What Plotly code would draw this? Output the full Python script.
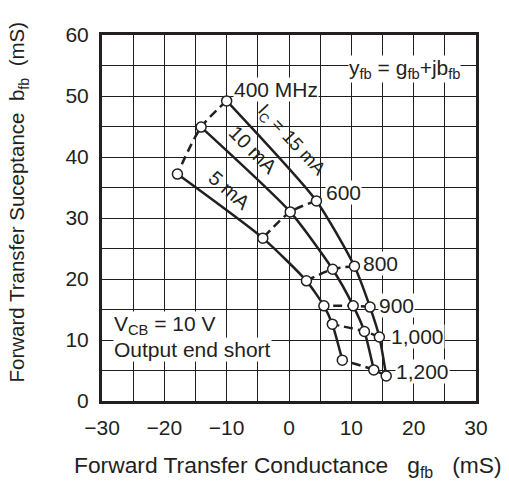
import plotly.graph_objects as go

freqs = ["400", "600", "800", "900", "1000", "1200"]
freq_labels = ["400 MHz", "600", "800", "900", "1,000", "1,200"]

g_15mA = [-10.0, 4.4, 10.5, 13.0, 14.5, 15.6]
b_15mA = [49.2, 32.8, 22.1, 15.4, 10.5, 4.1]
g_10mA = [-14.1, 0.2, 7.0, 10.3, 12.1, 13.6]
b_10mA = [44.9, 31.0, 21.6, 15.6, 11.4, 5.1]
g_5mA = [-17.9, -4.2, 2.8, 5.6, 6.95, 8.55]
b_5mA = [37.2, 26.7, 19.7, 15.6, 12.6, 6.7]

x_ticks = [-30, -20, -10, 0, 10, 20, 30]
x_tick_text = ["\u221230", "\u221220", "\u221210", "0", "10", "20", "30"]
y_ticks = [0, 10, 20, 30, 40, 50, 60]

INK = "#231f20"
GRID = "#1e1e1e"
FONT = "Liberation Sans, Arial, sans-serif"

fig = go.Figure()

curves = [(g_15mA, b_15mA), (g_10mA, b_10mA), (g_5mA, b_5mA)]
# dashed constant-frequency lines
for i in range(len(freqs)):
    xs = [c[0][i] for c in curves]
    ys = [c[1][i] for c in curves]
    fig.add_trace(go.Scatter(x=xs, y=ys, mode="lines",
                             line=dict(color=INK, width=2.5, dash="9px,5px", shape="spline", smoothing=0.8),
                             showlegend=False, hoverinfo="skip"))

# solid constant-current curves
for xs, ys in curves:
    fig.add_trace(go.Scatter(x=xs, y=ys, mode="lines+markers",
                             line=dict(color=INK, width=2.5, shape="spline", smoothing=0.6),
                             marker=dict(size=10, color="white", line=dict(color=INK, width=1.5)),
                             showlegend=False, hoverinfo="skip"))

annots = []
def add_text(x, y, text, xanchor="left", angle=0, bg="white", size=21):
    annots.append(dict(x=x, y=y, xref="x", yref="y", text=text, showarrow=False,
                       xanchor=xanchor, yanchor="middle", textangle=angle,
                       font=dict(family=FONT, size=size, color=INK),
                       bgcolor=bg, borderpad=0))

freq_pos = [(-9.0, 51.0), (5.8, 34.1), (11.7, 22.6), (14.3, 15.6), (16.2, 10.5), (17.0, 4.8)]
for (x, y), t in zip(freq_pos, freq_labels):
    add_text(x, y, t)

clear = "rgba(255,255,255,0)"
add_text(0.4, 42.6, "I<sub>C</sub> = 15 mA", xanchor="center", angle=47, bg=clear, size=18.5)
add_text(-5.7, 41.2, "10 mA", xanchor="center", angle=45, bg=clear, size=20)
add_text(-9.6, 34.6, "5 mA", xanchor="center", angle=41, bg=clear, size=20)
add_text(18.45, 54.5, "y<sub>fb</sub> = g<sub>fb</sub>+jb<sub>fb</sub>", xanchor="center")
add_text(-28.3, 12.5, "V<sub>CB</sub> = 10 V")
add_text(-28.3, 8.4, "Output end short")

sp2 = "\u00a0\u00a0"
sp3 = "\u00a0\u00a0\u00a0"
annots.append(dict(x=-0.2246, y=0.545, xref="paper", yref="paper", showarrow=False,
                   text="Forward Transfer Suceptance" + sp2 + "b<sub>fb</sub>" + sp2 + "(mS)",
                   textangle=-90, xanchor="center", yanchor="middle",
                   font=dict(family=FONT, size=20.5, color=INK)))
annots.append(dict(x=0.496, y=-0.18, xref="paper", yref="paper", showarrow=False,
                   text="Forward Transfer Conductance" + sp3 + "g<sub>fb</sub>" + sp3 + "(mS)",
                   xanchor="center", yanchor="middle",
                   font=dict(family=FONT, size=22.8, color=INK)))

axis_common = dict(showgrid=True, gridcolor=GRID, gridwidth=1,
                   showline=True, linecolor=INK, linewidth=3, mirror=True,
                   zeroline=False, ticks="", ticklabelstandoff=6,
                   tickfont=dict(family=FONT, size=21, color=INK),
                   minor=dict(dtick=5, showgrid=True, gridcolor=GRID, gridwidth=1))

fig.update_xaxes(range=[-30, 30], tickvals=x_ticks, ticktext=x_tick_text, **axis_common)
fig.update_yaxes(range=[0, 60], tickvals=y_ticks, **axis_common)

# page body has an 8px default margin; size/margins compensate so the plot lands where the reference has it
fig.update_layout(width=501, height=480, margin=dict(l=94, r=33, t=27, b=87),
                  plot_bgcolor="white", paper_bgcolor="white",
                  annotations=annots, showlegend=False)

fig.write_html("out.html")
